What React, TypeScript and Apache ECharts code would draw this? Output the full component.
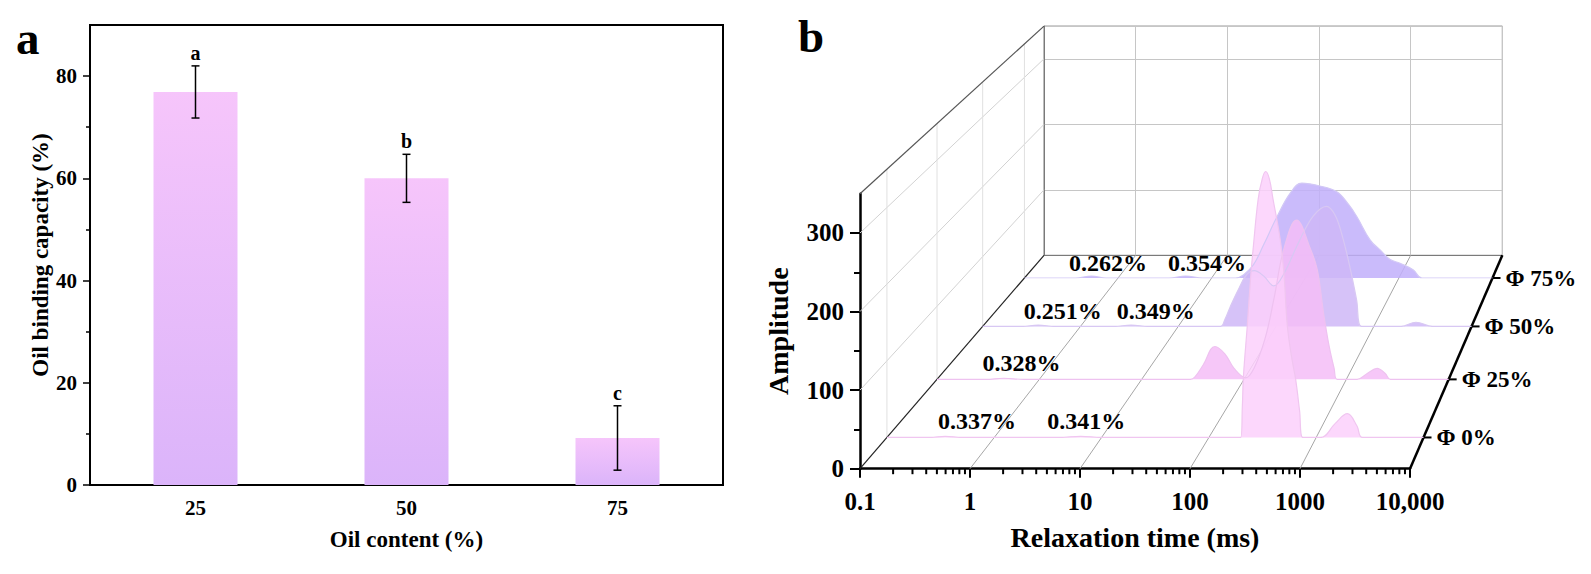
import { useEffect, useRef } from "react";
import * as echarts from "echarts";

// ---- panel a: oil binding capacity ----
const OIL_CONTENT = ["25", "50", "75"];
const OBC_MEAN = [76.9, 60.0, 9.2];
const OBC_SD = [5.1, 4.7, 6.3];
const OBC_LETTERS = ["a", "b", "c"];
const OBC_TICKS = [0, 20, 40, 60, 80];
const OBC_MINOR = [10, 30, 50, 70];

// ---- panel b: T2 relaxation spectra, [time (ms), amplitude] ----
const PHI0: [number, number][] = [
  [0.1, 0], [0.25, 0], [0.35, 1.5], [0.5, 0], [4, 0], [6.4, 1.5], [10, 0],
  [198, 0], [205, 40], [210, 80], [228, 146], [245, 209], [260, 250], [288, 311],
  [315, 338], [338, 347], [365, 338], [396, 311], [460, 260], [500, 215], [538, 146],
  [590, 105], [643, 76], [700, 35], [750, 0],
  [1100, 0], [1500, 18], [1950, 31], [2400, 15], [2700, 0], [10000, 0],
];
const PHI25: [number, number][] = [
  [0.1, 0], [0.3, 0], [0.45, 1.5], [0.7, 0],
  [30, 0], [33, 3], [40, 20], [52, 45], [65, 35], [80, 15], [104, 2],
  [125, 15], [160, 55], [196, 110], [245, 178], [326, 218], [447, 178], [520, 150],
  [600, 90], [680, 45], [760, 15], [815, 0],
  [1277, 0], [1600, 8], [2000, 15], [2400, 8], [2700, 0], [10000, 0],
];
const PHI50: [number, number][] = [
  [0.1, 0], [0.25, 0], [0.37, 2], [0.55, 0], [2.2, 0], [3.3, 2], [5, 0],
  [27, 0], [30, 10], [34, 28], [41, 52], [50, 74], [60, 80], [75, 72], [95, 58],
  [120, 75], [170, 120], [240, 158], [329, 172], [400, 160], [469, 133], [570, 85],
  [667, 38], [750, 0],
  [1900, 0], [2700, 6], [4000, 0], [10000, 0],
];
const PHI75: [number, number][] = [
  [0.1, 0], [0.35, 0], [0.52, 3], [0.75, 0], [3.5, 0], [5.3, 3], [8, 0],
  [18, 0], [22, 5], [28, 20], [36, 50], [50, 92], [70, 128], [92, 142], [140, 138],
  [217, 129], [290, 110], [355, 92], [492, 57], [630, 42], [800, 28], [1030, 22],
  [1430, 12], [1760, 0], [10000, 0],
];
const ROWS = [PHI0, PHI25, PHI50, PHI75];
const ROW_NAMES = ["Φ 0%", "Φ 25%", "Φ 50%", "Φ 75%"];
const ROW_NOTES = [["0.337%", "0.341%"], ["0.328%"], ["0.251%", "0.349%"], ["0.262%", "0.354%"]];
const NOTE_T = [[0.69, 7.2], [0.67], [0.66, 5.9], [0.78, 8.9]];
const AMP_TICKS = [0, 100, 200, 300];
const AMP_MINOR = [50, 150, 250];
const T_DECADES = [0.1, 1, 10, 100, 1000, 10000];

const ROW_FILL = ["#fcd0fb", "#f5bdf7", "#cfb7f7", "#c1affa"];
const ROW_LINE = ["#f0c6f0", "#eec2f0", "#d8c8f3", "#d2c8f6"];

// ---- layout ----
const SERIF = '"Liberation Serif", "Times New Roman", serif';
const GA = { left: 90, top: 25, width: 633, height: 460 };
const GB = { left: 860, top: 193.7, width: 550, height: 275 }; // front plane of the box
const DEPTH_K = 0.2; // back plane drawn at 1 / (1 + K)
const BACK_SHIFT = [184, -213.4]; // where the front origin lands on the back plane
const ROW_Z = [0.125, 0.375, 0.625, 0.875];
const NOTE_AMP = 22;

const backScale = 1 / (1 + DEPTH_K);
const VP = [
  GB.left + BACK_SHIFT[0] / (1 - backScale),
  GB.top + GB.height + BACK_SHIFT[1] / (1 - backScale),
];
const depthScale = (z: number) => 1 / (1 + DEPTH_K * z);
const toDepth = (p: number[], z: number) => {
  const s = depthScale(z);
  return [VP[0] + s * (p[0] - VP[0]), VP[1] + s * (p[1] - VP[1])];
};
const plane = (z: number) => {
  const s = depthScale(z);
  const [l, b] = toDepth([GB.left, GB.top + GB.height], z);
  return { left: l, top: b - s * GB.height, width: s * GB.width, height: s * GB.height };
};

const MINOR_T: number[] = [];
T_DECADES.slice(0, -1).forEach((d) => {
  for (let k = 2; k <= 9; k++) MINOR_T.push(d * k);
});

const seg = (a: number[], b: number[], stroke: string, lineWidth: number) => ({
  type: "line",
  shape: { x1: a[0], y1: a[1], x2: b[0], y2: b[1] },
  style: { stroke, lineWidth },
});

const txt = (x: number, y: number, text: string, size: number, align = "center", vAlign = "middle") => ({
  type: "text",
  x,
  y,
  style: {
    text,
    fill: "#000",
    font: `bold ${size}px ${SERIF}`,
    align,
    verticalAlign: vAlign,
    textAlign: align,
    textVerticalAlign: vAlign,
  },
});

const boldText = (size: number) => ({ fontFamily: SERIF, fontWeight: "bold" as const, fontSize: size, color: "#000" });

export default function App() {
  const ref = useRef<HTMLDivElement>(null);

  useEffect(() => {
    document.body.style.margin = "0";
    if (!ref.current) return;
    const chart = echarts.init(ref.current, undefined, { renderer: "svg" });

    const grids: any[] = [GA, GB, plane(1), ...ROW_Z.map(plane)].map((g, i) => ({
      ...g,
      outerBoundsMode: "none",
      show: i === 0 || i === 2,
      borderColor: i === 0 ? "#000" : "#7a7a7a",
      borderWidth: i === 0 ? 2 : 1,
      backgroundColor: "transparent",
    }));

    const frameSeries = {
      type: "custom",
      xAxisIndex: 2,
      yAxisIndex: 2,
      clip: false,
      silent: true,
      data: [[1, 1]],
      renderItem: (_p: any, api: any) => {
        const pt = (t: number, a: number, z: number) => toDepth(api.coord([t, a]), z);
        const children: any[] = [];
        T_DECADES.slice(1, -1).forEach((t) => children.push(seg(pt(t, 0, 0), pt(t, 0, 1), "#a6a6a6", 1)));
        AMP_TICKS.slice(1).forEach((a) => children.push(seg(pt(0.1, a, 0), pt(0.1, a, 1), "#d2d2d2", 1)));
        ROW_Z.forEach((z) => children.push(seg(pt(0.1, 0, z), pt(0.1, 350, z), "#e0e0e0", 1)));
        children.push(seg(pt(0.1, 350, 0), pt(0.1, 350, 1), "#555", 1.2));
        children.push(seg(pt(0.1, 0, 0), pt(0.1, 0, 1), "#222", 1.2));
        MINOR_T.forEach((t) => {
          const p = api.coord([t, 0]);
          children.push(seg(p, [p[0], p[1] + 5.5], "#000", 2));
        });
        return { type: "group", children };
      },
    };

    const rowSeries = [3, 2, 1, 0].map((i) => ({
      type: "line",
      name: ROW_NAMES[i],
      xAxisIndex: 4 + i,
      yAxisIndex: 5 + i,
      data: ROWS[i],
      smooth: 0.4,
      symbol: "none",
      lineStyle: { color: ROW_LINE[i], width: 1.2 },
      areaStyle: { color: ROW_FILL[i], opacity: 0.85 },
      silent: true,
    }));

    const labelSeries = {
      type: "custom",
      xAxisIndex: 2,
      yAxisIndex: 2,
      clip: false,
      silent: true,
      data: [[1, 1]],
      renderItem: (_p: any, api: any) => {
        const pt = (t: number, a: number, z: number) => toDepth(api.coord([t, a]), z);
        const children: any[] = [];
        ROW_NOTES.forEach((notes, i) =>
          notes.forEach((n, j) => {
            const p = pt(NOTE_T[i][j], NOTE_AMP, ROW_Z[i]);
            children.push(txt(p[0], p[1], n, 24));
          })
        );
        children.push(seg(pt(10000, 0, 0), pt(10000, 0, 1), "#000", 2.5));
        ROW_Z.forEach((z, i) => {
          const p = pt(10000, 0, z);
          children.push(seg([p[0] - 1, p[1]], [p[0] + 8, p[1]], "#000", 2));
          children.push(txt(p[0] + 13, p[1], ROW_NAMES[i], 23, "left"));
        });
        return { type: "group", children };
      },
    };

    const errorSeries = {
      type: "custom",
      xAxisIndex: 0,
      yAxisIndex: 0,
      silent: true,
      z: 5,
      data: OBC_MEAN.map((m, i) => [i, m - OBC_SD[i], m + OBC_SD[i]]),
      renderItem: (p: any, api: any) => {
        const x = api.value(0);
        const lo = api.coord([x, api.value(1)]);
        const hi = api.coord([x, api.value(2)]);
        const cap = 4;
        return {
          type: "group",
          children: [
            seg(lo, hi, "#000", 1.5),
            seg([lo[0] - cap, lo[1]], [lo[0] + cap, lo[1]], "#000", 1.5),
            seg([hi[0] - cap, hi[1]], [hi[0] + cap, hi[1]], "#000", 1.5),
            txt(hi[0], hi[1] - 3, OBC_LETTERS[p.dataIndex], 20, "center", "bottom"),
          ],
        };
      },
    };

    const hiddenX = ROW_Z.map((_, i) => ({ type: "log", gridIndex: 3 + i, min: 0.1, max: 10000, logBase: 10, show: false }));
    const hiddenY = ROW_Z.map((_, i) => ({ type: "value", gridIndex: 3 + i, min: 0, max: 350, show: false }));

    const option: any = {
      animation: false,
      backgroundColor: "#fff",
      grid: grids,
      xAxis: [
        {
          type: "category",
          gridIndex: 0,
          position: "bottom",
          data: OIL_CONTENT,
          axisLine: { lineStyle: { color: "#000", width: 2 } },
          axisTick: { alignWithLabel: true, length: 7, lineStyle: { color: "#000", width: 1.5 } },
          axisLabel: { ...boldText(21), margin: 12 },
          name: "Oil content (%)",
          nameLocation: "middle",
          nameGap: 43,
          nameTextStyle: boldText(23),
        },
        {
          type: "category",
          gridIndex: 0,
          position: "bottom",
          data: OIL_CONTENT,
          axisLine: { show: false },
          axisTick: { length: 4, lineStyle: { color: "#000", width: 1.5 } },
          axisLabel: { show: false },
        },
        {
          type: "log",
          gridIndex: 1,
          position: "bottom",
          min: 0.1,
          max: 10000,
          logBase: 10,
          axisLine: { onZero: false, lineStyle: { color: "#000", width: 2.5 } },
          axisTick: { length: 9, lineStyle: { color: "#000", width: 2 } },
          axisLabel: {
            ...boldText(25),
            margin: 20,
            formatter: (v: number) => (v >= 10000 ? "10,000" : String(v)),
          },
          splitLine: { show: false },
          name: "Relaxation time (ms)",
          nameLocation: "middle",
          nameGap: 55,
          nameTextStyle: boldText(28),
        },
        {
          type: "log",
          gridIndex: 2,
          position: "bottom",
          min: 0.1,
          max: 10000,
          logBase: 10,
          axisLine: { onZero: false, lineStyle: { color: "#7a7a7a", width: 1 } },
          axisTick: { show: false },
          axisLabel: { show: false },
          splitLine: { show: true, lineStyle: { color: "#c6c6c6", width: 1 } },
        },
        ...hiddenX,
      ],
      yAxis: [
        {
          type: "value",
          gridIndex: 0,
          position: "left",
          min: 0,
          max: 90,
          axisLine: { show: true, lineStyle: { color: "#000", width: 2 } },
          axisTick: { show: true, customValues: OBC_TICKS, length: 7, lineStyle: { color: "#000", width: 1.5 } },
          axisLabel: { ...boldText(21), margin: 13, customValues: OBC_TICKS },
          splitLine: { show: false },
          name: "Oil binding capacity (%)",
          nameLocation: "middle",
          nameRotate: 90,
          nameGap: 37,
          nameTextStyle: boldText(23),
        },
        {
          type: "value",
          gridIndex: 0,
          position: "left",
          min: 0,
          max: 90,
          axisLine: { show: false },
          axisTick: { show: true, customValues: OBC_MINOR, length: 4, lineStyle: { color: "#000", width: 1.5 } },
          axisLabel: { show: false },
          splitLine: { show: false },
        },
        {
          type: "value",
          gridIndex: 1,
          position: "left",
          min: 0,
          max: 350,
          axisLine: { show: true, onZero: false, lineStyle: { color: "#000", width: 2.5 } },
          axisTick: { show: true, customValues: AMP_TICKS, length: 10, lineStyle: { color: "#000", width: 2 } },
          axisLabel: { ...boldText(25), margin: 16, customValues: AMP_TICKS },
          splitLine: { show: false },
          name: "Amplitude",
          nameLocation: "middle",
          nameRotate: 90,
          nameGap: 68,
          nameTextStyle: boldText(28),
        },
        {
          type: "value",
          gridIndex: 1,
          position: "left",
          min: 0,
          max: 350,
          axisLine: { show: false },
          axisTick: { show: true, customValues: AMP_MINOR, length: 6, lineStyle: { color: "#000", width: 2 } },
          axisLabel: { show: false },
          splitLine: { show: false },
        },
        {
          type: "value",
          gridIndex: 2,
          position: "left",
          min: 0,
          max: 350,
          axisLine: { show: true, onZero: false, lineStyle: { color: "#7a7a7a", width: 1 } },
          axisTick: { show: false },
          axisLabel: { show: false },
          splitLine: { show: true, lineStyle: { color: "#c6c6c6", width: 1 } },
        },
        ...hiddenY,
      ],
      graphic: [
        { type: "text", left: 16, top: 14, style: { text: "a", font: `bold 47px ${SERIF}`, fill: "#000" } },
        { type: "text", left: 798, top: 12, style: { text: "b", font: `bold 47px ${SERIF}`, fill: "#000" } },
      ],
      series: [
        {
          type: "bar",
          xAxisIndex: 0,
          yAxisIndex: 0,
          data: OBC_MEAN,
          barWidth: 84,
          silent: true,
          itemStyle: {
            color: new echarts.graphic.LinearGradient(0, 0, 0, 1, [
              { offset: 0, color: "#f6c5fb" },
              { offset: 1, color: "#dbb4fa" },
            ]),
          },
        },
        errorSeries,
        frameSeries,
        ...rowSeries,
        labelSeries,
      ],
    };

    chart.setOption(option);
    return () => chart.dispose();
  }, []);

  return <div ref={ref} style={{ width: 1591, height: 574 }} />;
}
